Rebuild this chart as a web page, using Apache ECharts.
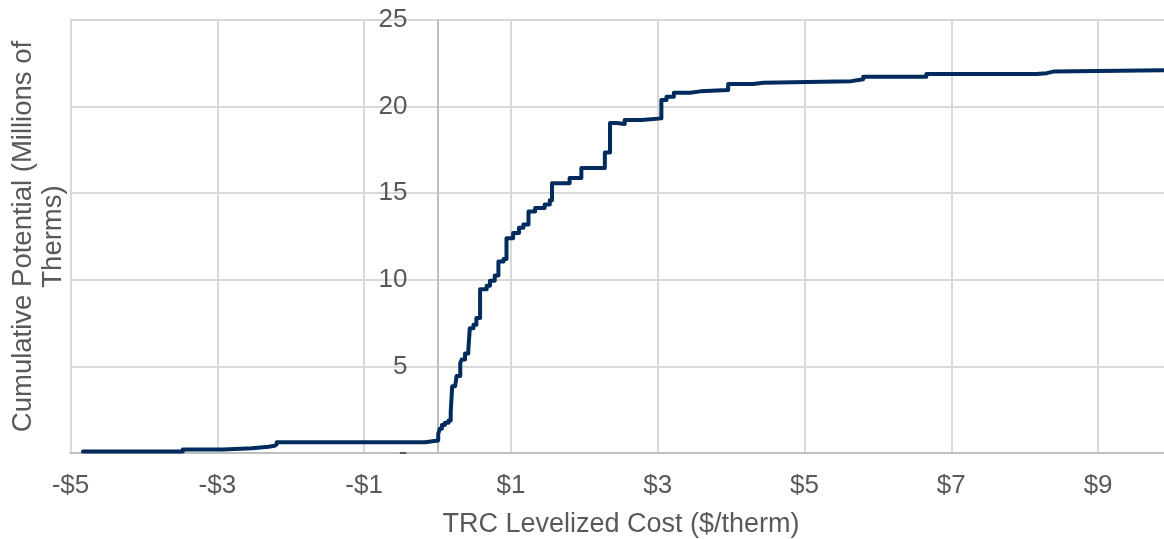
<!DOCTYPE html>
<html><head><meta charset="utf-8">
<script src="https://cdn.jsdelivr.net/npm/echarts@6/dist/echarts.min.js"></script>
<style>html,body{margin:0;padding:0;background:#fff}#c{width:1164px;height:539px}</style>
</head><body><div id="c"></div>
<script>
// TRC levelized cost ($/therm) at which each cumulative step occurs
const costs = [-4.83, -3.47, -2.92, -2.53, -2.30, -2.22, -2.19, -0.17,
  0.01, 0.03, 0.06, 0.10, 0.15, 0.18, 0.20, 0.24, 0.26, 0.31, 0.33, 0.375, 0.42,
  0.44, 0.49, 0.53, 0.58, 0.67, 0.715, 0.78, 0.83, 0.90, 0.94, 1.03, 1.11, 1.17,
  1.24, 1.33, 1.46, 1.53, 1.56, 1.80, 1.96, 2.28, 2.35, 2.44, 2.55, 2.78, 3.05,
  3.12, 3.22, 3.44, 3.58, 3.96, 4.30, 4.44, 5.64, 5.80, 6.66, 8.16, 8.30, 8.39, 10.0];
// Cumulative potential (millions of therms) after each step
const potential = [0.08, 0.20, 0.28, 0.36, 0.42, 0.50, 0.62, 0.72,
  1.10, 1.40, 1.62, 1.75, 1.87, 2.38, 3.85, 3.95, 4.45, 5.20, 5.40, 5.75, 5.95,
  7.20, 7.40, 7.80, 9.45, 9.65, 9.95, 10.25, 11.05, 11.20, 12.40, 12.70, 13.00, 13.20,
  13.95, 14.15, 14.35, 14.60, 15.57, 15.88, 16.45, 17.35, 19.05, 19.00, 19.22, 19.32, 20.38,
  20.57, 20.80, 20.88, 20.96, 21.30, 21.38, 21.47, 21.58, 21.72, 21.88, 21.93, 22.02, 22.10, 22.14];
const xTickValues = [-5, -3, -1, 1, 3, 5, 7, 9];
const yTickValues = [0, 5, 10, 15, 20, 25];

const textColor = '#595959';
const font = "'Liberation Sans', Arial, sans-serif";
const chart = echarts.init(document.getElementById('c'), null, {renderer: 'canvas'});
chart.setOption({
  animation: false,
  backgroundColor: '#ffffff',
  grid: {left: 70.5, top: 20, width: 1101, height: 433, containLabel: false, outerBoundsMode: 'none'},
  xAxis: {
    type: 'value', min: -5, max: 10,
    name: 'TRC Levelized Cost ($/therm)', nameLocation: 'middle', nameGap: 58,
    nameTextStyle: {color: textColor, fontSize: 27, fontFamily: font},
    axisLine: {show: true, onZero: true, lineStyle: {color: '#bfbfbf', width: 2}},
    axisTick: {show: false, customValues: xTickValues},
    axisLabel: {customValues: xTickValues, color: textColor, fontSize: 26, fontFamily: font, margin: 20,
      formatter: v => (v < 0 ? '-$' + (-v) : '$' + v)},
    splitLine: {show: true, lineStyle: {color: '#d9d9d9', width: 2}}
  },
  yAxis: {
    type: 'value', min: 0, max: 25, interval: 5,
    name: 'Cumulative Potential (Millions of\nTherms)', nameLocation: 'middle', nameGap: 2,
    nameTextStyle: {color: textColor, fontSize: 27.5, fontFamily: font, lineHeight: 30, align: 'center'},
    axisLine: {show: true, onZero: true, lineStyle: {color: '#bfbfbf', width: 2}},
    axisTick: {show: false},
    axisLabel: {color: textColor, fontSize: 26, fontFamily: font, margin: -337,
      formatter: v => (v === 0 ? '-' : String(v))},
    splitLine: {show: true, lineStyle: {color: '#d9d9d9', width: 2}}
  },
  series: [{
    type: 'line', step: 'end', showSymbol: false, silent: true,
    data: costs.map((c, i) => [c, potential[i]]),
    lineStyle: {color: '#002b5c', width: 4, cap: 'round', join: 'round'}
  }]
});
</script>
</body></html>
